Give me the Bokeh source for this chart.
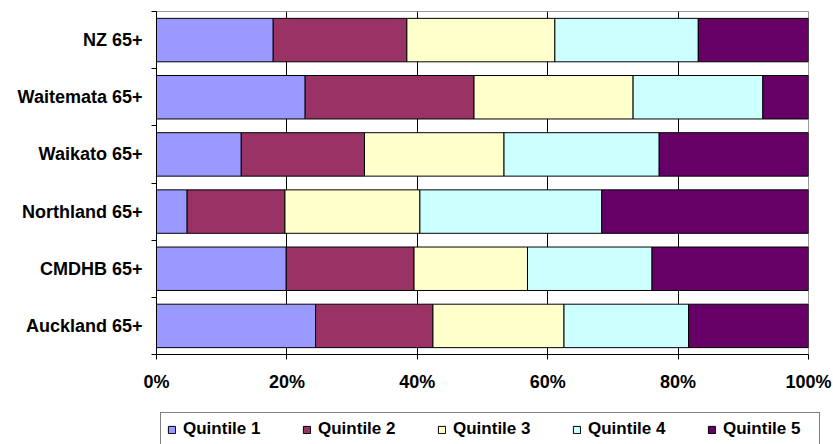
from bokeh.plotting import figure
from bokeh.models import ColumnDataSource, Range1d, FixedTicker, Legend, LegendItem, PrintfTickFormatter
from bokeh.layouts import column
from bokeh.embed import file_html
from bokeh.resources import INLINE

categories = ["Auckland 65+", "CMDHB 65+", "Northland 65+", "Waikato 65+", "Waitemata 65+", "NZ 65+"]
quintile_1 = [24.4, 19.9, 4.7, 13.0, 22.8, 17.9]
quintile_2 = [18.0, 19.6, 15.0, 18.9, 25.9, 20.5]
quintile_3 = [20.1, 17.4, 20.7, 21.4, 24.4, 22.7]
quintile_4 = [19.1, 19.1, 27.9, 23.8, 19.9, 22.0]
quintile_5 = [18.4, 24.0, 31.7, 22.9, 7.0, 16.9]
series_names = ["Quintile 1", "Quintile 2", "Quintile 3", "Quintile 4", "Quintile 5"]
colors = ["#9999FF", "#993366", "#FFFFCC", "#CCFFFF", "#660066"]
x_ticks = [0, 20, 40, 60, 80, 100]

keys = ["q1", "q2", "q3", "q4", "q5"]
ypos = [i + 0.5 for i in range(len(categories))]
src = ColumnDataSource(dict(y=ypos, q1=quintile_1, q2=quintile_2, q3=quintile_3,
                            q4=quintile_4, q5=quintile_5))

FONT = "Liberation Sans"

p = figure(width=833, height=410, output_backend="svg", toolbar_location=None,
           x_range=Range1d(0, 100), y_range=Range1d(0, len(categories)),
           min_border_left=156, min_border_right=25, min_border_top=11,
           min_border_bottom=56, background_fill_color="white", border_fill_color="white",
           frame_align=False)

renderers = p.hbar_stack(keys, y="y", height=0.76, fill_color=colors,
                         line_color="black", line_width=1, source=src)

p.outline_line_color = "#999999"
p.outline_line_width = 1
p.ygrid.visible = False
p.xgrid.ticker = FixedTicker(ticks=[20, 40, 60, 80])
p.xgrid.grid_line_color = "black"
p.xgrid.grid_line_width = 1

xa = p.xaxis[0]
xa.ticker = FixedTicker(ticks=x_ticks)
xa.formatter = PrintfTickFormatter(format="%d%%")
xa.major_tick_out = 5
xa.major_tick_in = 0
xa.minor_tick_out = 0
xa.minor_tick_in = 0
xa.axis_line_color = "black"
xa.major_tick_line_color = "black"
xa.major_label_standoff = 12
xa.major_label_text_font = FONT
xa.major_label_text_font_style = "bold"
xa.major_label_text_font_size = "18px"
xa.major_label_text_color = "black"

ya = p.yaxis[0]
ya.ticker = FixedTicker(ticks=ypos, minor_ticks=list(range(len(categories) + 1)))
ya.major_label_overrides = {y: c for y, c in zip(ypos, categories)}
ya.major_tick_out = 0
ya.major_tick_in = 0
ya.minor_tick_out = 5
ya.minor_tick_in = 0
ya.minor_tick_line_color = "black"
ya.axis_line_color = "black"
ya.major_label_standoff = 9
ya.major_label_text_font = FONT
ya.major_label_text_font_style = "bold"
ya.major_label_text_font_size = "18px"
ya.major_label_text_color = "black"

# legend strip below the chart (same stacked bars, kept outside its visible range)
pl = figure(width=833, height=34, output_backend="svg", toolbar_location=None,
            x_range=Range1d(0, 100), y_range=Range1d(100, 101),
            x_axis_location=None, y_axis_location=None,
            min_border=0, background_fill_color="white", border_fill_color="white",
            frame_align=False)
pl.grid.visible = False
pl.outline_line_color = None
leg_renderers = pl.hbar_stack(keys, y="y", height=0.76, fill_color=colors,
                              line_color="black", line_width=1, source=src)
items = [LegendItem(label=n, renderers=[r]) for n, r in zip(series_names, leg_renderers)]
legend = Legend(items=items, orientation="horizontal", location=(160, -2), margin=0,
                padding=6, spacing=29, label_width=90, label_height=20,
                glyph_width=9, glyph_height=9, label_standoff=7,
                label_text_font=FONT, label_text_font_style="bold",
                label_text_font_size="17px", label_text_color="black",
                border_line_color="black", border_line_width=1,
                background_fill_color="white", background_fill_alpha=1.0)
pl.add_layout(legend)

layout = column(p, pl, spacing=0)
open("out.html", "w").write(file_html(layout, INLINE))
